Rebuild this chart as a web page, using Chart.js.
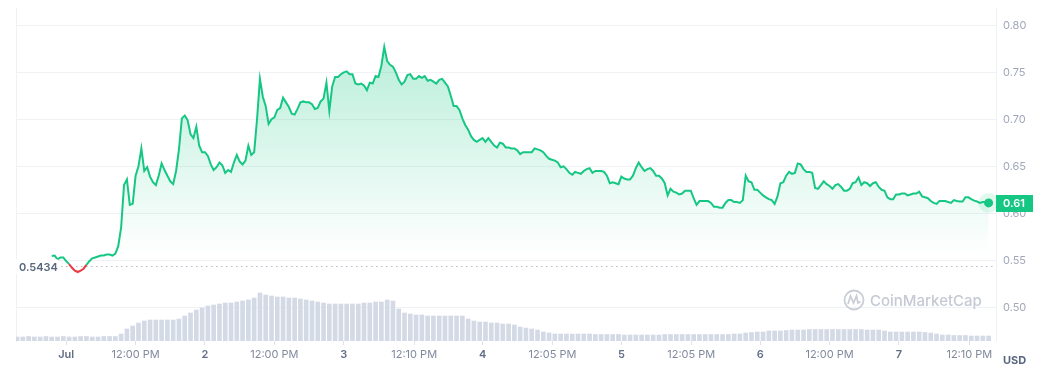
<!DOCTYPE html>
<html>
<head>
<meta charset="utf-8">
<script src="https://cdn.jsdelivr.net/npm/chart.js@4.4.1/dist/chart.umd.min.js"></script>
<style>
  html, body { margin: 0; padding: 0; background: #fff; }
  #wrap { position: relative; width: 1042px; height: 369px; }
</style>
</head>
<body>
<div id="wrap"><canvas id="chart"></canvas></div>
<script>
// hours are counted from Jul 1, 00:00
const PRICE_START_HOUR = -2.5;
const PRICE_STEP = 0.5;
const PRICES = [
  0.5546, 0.555, 0.551, 0.553, 0.553, 0.549, 0.546, 0.542, 0.539, 0.5375,
  0.539, 0.541, 0.545, 0.549, 0.552, 0.553, 0.554, 0.555, 0.555, 0.556,
  0.556, 0.555, 0.557, 0.565, 0.585, 0.630, 0.636, 0.609, 0.610, 0.640,
  0.650, 0.669, 0.645, 0.649, 0.639, 0.633, 0.630, 0.640, 0.653, 0.646,
  0.640, 0.634, 0.631, 0.645, 0.668, 0.701, 0.704, 0.699, 0.684, 0.680,
  0.692, 0.672, 0.665, 0.665, 0.661, 0.652, 0.646, 0.649, 0.654, 0.651,
  0.643, 0.646, 0.644, 0.654, 0.662, 0.655, 0.652, 0.656, 0.672, 0.662,
  0.665, 0.700, 0.743, 0.724, 0.714, 0.695, 0.700, 0.702, 0.710, 0.712,
  0.723, 0.718, 0.713, 0.706, 0.705, 0.711, 0.718, 0.719, 0.718, 0.718,
  0.716, 0.711, 0.712, 0.719, 0.722, 0.739, 0.709, 0.735, 0.745, 0.745,
  0.748, 0.750, 0.751, 0.748, 0.748, 0.738, 0.737, 0.738, 0.736, 0.731,
  0.739, 0.738, 0.746, 0.745, 0.757, 0.777, 0.762, 0.758, 0.756, 0.750,
  0.742, 0.737, 0.740, 0.747, 0.748, 0.743, 0.743, 0.746, 0.744, 0.746,
  0.741, 0.742, 0.740, 0.738, 0.742, 0.743, 0.739, 0.735, 0.725, 0.714,
  0.714, 0.710, 0.701, 0.694, 0.689, 0.682, 0.678, 0.676, 0.678, 0.680,
  0.676, 0.680, 0.676, 0.672, 0.670, 0.675, 0.674, 0.670, 0.670, 0.669,
  0.669, 0.667, 0.663, 0.665, 0.665, 0.665, 0.665, 0.669, 0.668, 0.667,
  0.665, 0.661, 0.658, 0.657, 0.656, 0.654, 0.649, 0.650, 0.647, 0.643,
  0.641, 0.644, 0.643, 0.642, 0.645, 0.647, 0.648, 0.643, 0.645, 0.645,
  0.645, 0.644, 0.640, 0.632, 0.633, 0.632, 0.631, 0.639, 0.637, 0.636,
  0.636, 0.640, 0.648, 0.654, 0.649, 0.645, 0.647, 0.648, 0.645, 0.640,
  0.640, 0.637, 0.632, 0.619, 0.626, 0.623, 0.622, 0.620, 0.621, 0.624,
  0.624, 0.624, 0.616, 0.609, 0.613, 0.613, 0.613, 0.613, 0.611, 0.607,
  0.607, 0.606, 0.606, 0.611, 0.614, 0.614, 0.612, 0.612, 0.611, 0.614,
  0.640, 0.634, 0.633, 0.625, 0.625, 0.622, 0.619, 0.617, 0.615, 0.614,
  0.610, 0.618, 0.632, 0.633, 0.640, 0.644, 0.642, 0.643, 0.653, 0.652,
  0.647, 0.644, 0.644, 0.643, 0.627, 0.626, 0.630, 0.634, 0.631, 0.629,
  0.626, 0.630, 0.631, 0.628, 0.624, 0.624, 0.626, 0.632, 0.633, 0.638,
  0.630, 0.633, 0.632, 0.629, 0.632, 0.633, 0.628, 0.625, 0.624, 0.617,
  0.615, 0.615, 0.620, 0.620, 0.621, 0.621, 0.619, 0.620, 0.621, 0.621,
  0.623, 0.618, 0.617, 0.616, 0.613, 0.611, 0.610, 0.613, 0.613, 0.613,
  0.612, 0.611, 0.614, 0.613, 0.6125, 0.6125, 0.617, 0.617, 0.615, 0.6134,
  0.6125, 0.611, 0.612, 0.612, 0.611
];

const VOLUME_START_HOUR = -8.5;
const VOLUME_STEP = 1;
const VOLUMES = [
  4, 4, 4.5, 4, 4, 4.5, 4, 4, 4.5, 4, 4, 4.5, 4.5, 4, 4, 4.5, 4.5, 4.5,
  7, 12, 15, 18, 20, 21, 21, 21, 21, 21,
  22, 25, 28, 31, 33, 35, 36, 37, 38, 38,
  39, 40, 41, 43, 48, 46, 45, 44, 44, 43,
  43, 42, 41, 40, 39, 38, 37, 37, 37, 37,
  37, 37, 38, 38, 39, 39, 41, 40, 32, 28,
  27, 26, 26, 25, 25, 25, 25, 25, 25, 25,
  22, 20, 19, 19, 18, 18, 17, 17, 16, 14,
  13, 12, 11, 9, 8, 7, 7, 7, 7, 7,
  7, 7, 6.5, 6.5, 6.5, 6.5, 6.5, 6, 6, 6,
  6, 6, 6, 6, 6.5, 6.5, 6.5, 6.5, 6.5, 6.5,
  6.5, 6.5, 6.5, 6.5, 6.5, 6.5, 7, 7, 8, 8.5,
  9, 9, 10, 10, 10, 10.5, 11, 11, 11, 11.5,
  11.5, 11.5, 11.5, 11.5, 11.5, 11.5, 11.5, 11.5, 11.5, 11,
  11, 11, 10, 9, 9, 9, 9, 9, 9, 8.5,
  8, 7, 6, 6, 5.5, 5.5, 5.5, 5, 5, 5, 5
];
const VOL_AXIS_MAX = 333;

const BASELINE = 0.5434;
const BASELINE_LABEL = '0.5434';
const LAST_PRICE_LABEL = '0.61';
const Y_TICKS = [0.50, 0.55, 0.60, 0.65, 0.70, 0.75, 0.80];
const X_TICK_HOURS = [0, 12, 24, 36, 48, 60.17, 72, 84.08, 96, 108.08, 120, 132, 144, 156.17];
const X_TICK_LABELS = ['Jul', '12:00 PM', '2', '12:00 PM', '3', '12:10 PM', '4', '12:05 PM', '5', '12:05 PM', '6', '12:00 PM', '7', '12:10 PM'];

const GREEN = '#16c784';
const RED = '#ea3943';

const priceData = PRICES.map((v, i) => ({ x: PRICE_START_HOUR + i * PRICE_STEP, y: v }));
const volumeData = VOLUMES.map((v, i) => ({ x: VOLUME_START_HOUR + i * VOLUME_STEP, y: v }));

Chart.defaults.font.family = 'Inter, "Noto Sans", sans-serif';

// extra drawing: baseline, labels, watermark, end dot
const overlayPlugin = {
    id: 'overlay',
    beforeDatasetsDraw(chart) {
        const { ctx, chartArea, scales } = chart;
        const y = Math.round(scales.y.getPixelForValue(BASELINE)) + 0.5;
        ctx.save();
        ctx.strokeStyle = '#b4bccb';
        ctx.lineWidth = 1;
        ctx.setLineDash([1.5, 3.5]);
        ctx.beginPath();
        ctx.moveTo(chartArea.left, y);
        ctx.lineTo(chartArea.right, y);
        ctx.stroke();
        ctx.setLineDash([]);

        // watermark
        const cx = chartArea.right - 142, cy = 300;
        ctx.strokeStyle = '#c9ced8';
        ctx.lineWidth = 1.8;
        ctx.beginPath();
        ctx.arc(cx, cy, 9.5, 0, Math.PI * 2);
        ctx.stroke();
        ctx.beginPath();
        ctx.moveTo(cx - 6, cy + 4);
        ctx.lineTo(cx - 3.5, cy - 4);
        ctx.lineTo(cx - 0.5, cy + 3);
        ctx.lineTo(cx + 2.5, cy - 4);
        ctx.lineTo(cx + 4, cy + 3);
        ctx.lineTo(cx + 6.5, cy + 1.5);
        ctx.stroke();
        ctx.fillStyle = '#c4cad5';
        ctx.font = '500 15px Inter, "Noto Sans", sans-serif';
        ctx.textBaseline = 'middle';
        ctx.textAlign = 'left';
        ctx.fillText('CoinMarketCap', cx + 16, cy + 1);
        ctx.restore();
    },
    afterDatasetsDraw(chart) {
        const { ctx, chartArea, scales } = chart;
        ctx.save();

        // baseline label on the left
        const by = scales.y.getPixelForValue(BASELINE);
        ctx.fillStyle = '#ffffff';
        ctx.fillRect(chartArea.left, by - 7, 42, 14);
        ctx.font = '600 11px Inter, "Noto Sans", sans-serif';
        ctx.fillStyle = '#58667e';
        ctx.textBaseline = 'middle';
        ctx.textAlign = 'left';
        ctx.fillText(BASELINE_LABEL, chartArea.left + 3, by + 1);

        // last point
        const last = priceData[priceData.length - 1];
        const px = scales.x.getPixelForValue(last.x);
        const py = scales.y.getPixelForValue(last.y);
        ctx.fillStyle = 'rgba(22,199,132,0.13)';
        ctx.beginPath();
        ctx.arc(px, py, 10, 0, Math.PI * 2);
        ctx.fill();
        ctx.fillStyle = GREEN;
        ctx.beginPath();
        ctx.arc(px, py, 4.5, 0, Math.PI * 2);
        ctx.fill();
        ctx.restore();
    },
    afterDraw(chart) {
        const { ctx, chartArea, scales } = chart;
        const last = priceData[priceData.length - 1];
        const py = scales.y.getPixelForValue(last.y);
        ctx.save();
        ctx.fillStyle = GREEN;
        ctx.fillRect(chartArea.right, Math.round(py) - 8, 37, 17);
        ctx.fillStyle = '#ffffff';
        ctx.font = '600 11px Inter, "Noto Sans", sans-serif';
        ctx.textAlign = 'center';
        ctx.textBaseline = 'middle';
        ctx.fillText(LAST_PRICE_LABEL, chartArea.right + 18, Math.round(py) + 1);

        ctx.fillStyle = '#58667e';
        ctx.font = '700 11px Inter, "Noto Sans", sans-serif';
        ctx.textAlign = 'left';
        ctx.fillText('USD', chartArea.right + 7, 361);
        ctx.restore();
    }
};

const ctx = document.getElementById('chart').getContext('2d');
new Chart(ctx, {
    data: {
        datasets: [
            {
                type: 'line',
                label: 'Price',
                data: priceData,
                yAxisID: 'y',
                order: 0,
                borderColor: GREEN,
                borderWidth: 2,
                pointRadius: 0,
                tension: 0,
                fill: 'origin',
                backgroundColor: (c) => {
                    const chart = c.chart;
                    if (!chart.chartArea) return 'rgba(22,199,132,0.1)';
                    const ys = chart.scales.y;
                    const g = chart.ctx.createLinearGradient(0, ys.getPixelForValue(0.78), 0, ys.getPixelForValue(0.555));
                    g.addColorStop(0, 'rgba(22,199,132,0.30)');
                    g.addColorStop(0.6, 'rgba(22,199,132,0.12)');
                    g.addColorStop(1, 'rgba(22,199,132,0.0)');
                    return g;
                },
                segment: {
                    borderColor: (s) => (s.p0.parsed.y < BASELINE || s.p1.parsed.y < BASELINE) ? RED : GREEN
                }
            },
            {
                type: 'bar',
                label: 'Volume',
                data: volumeData,
                yAxisID: 'yVol',
                order: 1,
                backgroundColor: '#d3d9e5',
                barThickness: 4
            }
        ]
    },
    options: {
        responsive: true,
        maintainAspectRatio: false,
        animation: false,
        layout: { padding: { top: 8, left: 16, right: 0, bottom: 0 } },
        plugins: {
            legend: { display: false },
            tooltip: { enabled: false }
        },
        scales: {
            x: {
                type: 'linear',
                offset: false,
                min: -8.68,
                max: 160.78,
                afterBuildTicks: (s) => { s.ticks = X_TICK_HOURS.map(v => ({ value: v })); },
                afterFit: (s) => { s.height = 28; },
                grid: { offset: false, drawOnChartArea: false, drawTicks: true, tickLength: 4, color: '#dfe3ea' },
                border: { display: false },
                ticks: {
                    autoSkip: false,
                    maxRotation: 0,
                    padding: 3,
                    callback: (v, i) => X_TICK_LABELS[i],
                    color: (c) => (X_TICK_LABELS[c.index] || '').includes('M') ? '#808a9d' : '#616e85',
                    font: (c) => ({
                        size: 11,
                        weight: (X_TICK_LABELS[c.index] || '').includes('M') ? 'normal' : '600'
                    })
                }
            },
            y: {
                position: 'right',
                min: 0.4641,
                max: 0.8184,
                afterBuildTicks: (s) => { s.ticks = Y_TICKS.map(v => ({ value: v })); },
                afterFit: (s) => { s.width = 46; s.paddingTop = 0; s.paddingBottom = 0; },
                grid: { color: '#eff2f5', drawTicks: false },
                border: { display: true, color: '#eff2f5' },
                ticks: {
                    padding: 7,
                    color: '#a1a7bb',
                    font: { size: 11 },
                    callback: (v) => Number(v).toFixed(2)
                }
            },
            yVol: {
                position: 'left',
                min: 0,
                max: VOL_AXIS_MAX,
                afterFit: (s) => { s.width = 0; s.paddingTop = 0; s.paddingBottom = 0; },
                grid: { display: false },
                border: { display: true, color: '#eff2f5' },
                ticks: { display: false }
            }
        }
    },
    plugins: [overlayPlugin]
});
</script>
</body>
</html>
